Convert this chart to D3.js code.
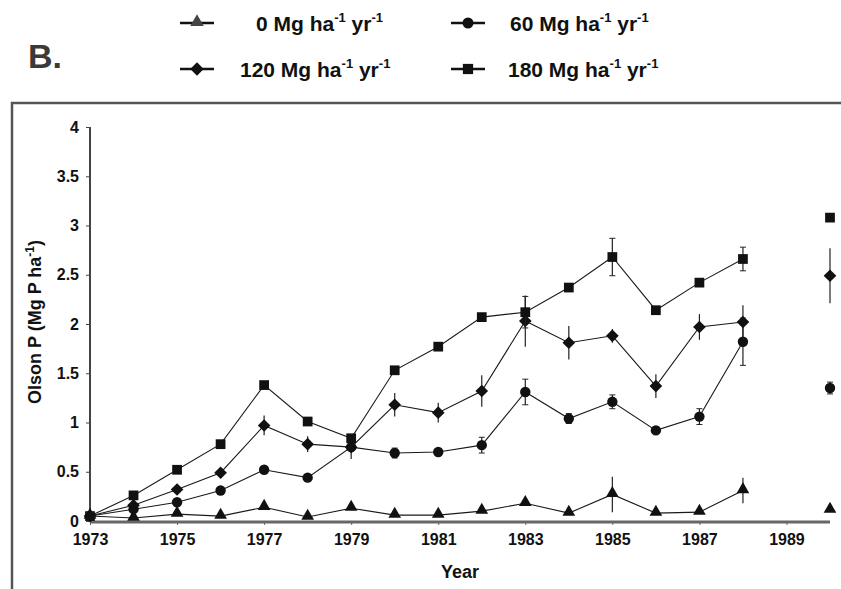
<!DOCTYPE html>
<html>
<head>
<meta charset="utf-8">
<script src="https://cdn.jsdelivr.net/npm/d3@7"></script>
<style>
  body { margin: 0; background: #fff; }
  text { font-family: "Liberation Sans", Arial, sans-serif; font-weight: bold; fill: #111; }
</style>
</head>
<body>
<div id="chart"></div>
<script>
// data
const years = [1973, 1974, 1975, 1976, 1977, 1978, 1979, 1980, 1981, 1982, 1983, 1984, 1985, 1986, 1987, 1988];
const rate0   = [0.05, 0.03, 0.07, 0.05, 0.14, 0.04, 0.13, 0.06, 0.06, 0.10, 0.18, 0.08, 0.27, 0.08, 0.09, 0.31];
const rate60  = [0.05, 0.12, 0.19, 0.31, 0.52, 0.44, 0.75, 0.69, 0.70, 0.77, 1.31, 1.04, 1.21, 0.92, 1.06, 1.82];
const rate120 = [0.05, 0.16, 0.32, 0.49, 0.97, 0.78, 0.75, 1.18, 1.10, 1.32, 2.03, 1.81, 1.88, 1.37, 1.97, 2.02];
const rate180 = [0.05, 0.26, 0.52, 0.78, 1.38, 1.01, 0.84, 1.53, 1.77, 2.07, 2.12, 2.37, 2.68, 2.14, 2.42, 2.66];

const err0   = [0, 0, 0, 0, 0, 0, 0, 0, 0, 0, 0, 0, 0.18, 0, 0, 0.13];
const err60  = [0, 0, 0, 0, 0, 0, 0, 0.05, 0, 0.08, 0.13, 0.05, 0.07, 0.03, 0.08, 0.24];
const err120 = [0, 0, 0, 0, 0.10, 0.08, 0.12, 0.12, 0.10, 0.16, 0.26, 0.17, 0.07, 0.12, 0.13, 0.17];
const err180 = [0, 0, 0, 0, 0, 0, 0.03, 0, 0, 0, 0.16, 0, 0.19, 0, 0, 0.12];

// separate, unconnected 1990 values
const lastYear = 1990;
const lastValues = [0.11, 1.35, 2.49, 3.08];
const lastErr = [0, 0.06, 0.28, 0];

const seriesNames = ["0", "60", "120", "180"];
const xTicks = [1973, 1975, 1977, 1979, 1981, 1983, 1985, 1987, 1989];
const yTicks = [0, 0.5, 1, 1.5, 2, 2.5, 3, 3.5, 4];

const width = 841, height = 589;
const svg = d3.select("#chart").append("svg")
    .attr("width", width)
    .attr("height", height);

// frame
svg.append("path")
    .attr("d", "M12,589 L12,103 L841,103")
    .attr("fill", "none")
    .attr("stroke", "#555")
    .attr("stroke-width", 2.5);

const x = d3.scaleLinear().domain([1973, 1990]).range([90, 830]);
const y = d3.scaleLinear().domain([0, 4]).range([521, 127]);

// axes
const yAxis = svg.append("g")
    .attr("transform", "translate(90,0)")
    .call(d3.axisLeft(y).tickValues(yTicks).tickSize(4).tickPadding(7).tickFormat(d3.format("")));
yAxis.select(".domain").attr("stroke", "#444").attr("stroke-width", 2).attr("d", "M0," + y(4) + "V" + y(0));
yAxis.selectAll(".tick line").attr("stroke", "#444");
yAxis.selectAll(".tick text").attr("font-size", 16).attr("fill", "#111");

const xAxis = svg.append("g")
    .attr("transform", "translate(0,522)")
    .call(d3.axisBottom(x).tickValues(xTicks).tickSize(3).tickPadding(9).tickFormat(d3.format("d")));
xAxis.select(".domain").attr("stroke", "#666").attr("stroke-width", 3).attr("d", "M90,0H830");
xAxis.selectAll(".tick line").attr("stroke", "#666");
xAxis.selectAll(".tick text").attr("font-size", 16).attr("fill", "#111");

svg.append("text")
    .attr("x", 460).attr("y", 578)
    .attr("text-anchor", "middle")
    .attr("font-size", 18)
    .text("Year");

const ylab = svg.append("text")
    .attr("transform", "translate(41,322) rotate(-90)")
    .attr("text-anchor", "middle")
    .attr("font-size", 18);
ylab.append("tspan").text("Olson P (Mg P ha");
ylab.append("tspan").attr("font-size", 12).attr("dy", -7).text("-1");
ylab.append("tspan").attr("dy", 7).text(")");

svg.append("text")
    .attr("x", 28).attr("y", 68)
    .attr("font-size", 34)
    .style("fill", "#3a3a3a")
    .text("B.");

// series
const diamond = {
    draw(ctx, size) {
        const r = Math.sqrt(size / 2);
        ctx.moveTo(0, -r); ctx.lineTo(r, 0); ctx.lineTo(0, r); ctx.lineTo(-r, 0); ctx.closePath();
    }
};
const symbols = [d3.symbolTriangle, d3.symbolCircle, diamond, d3.symbolSquare];
const symSize = [70, 85, 80, 95];
const caps = [false, true, false, true];
const values = [rate0, rate60, rate120, rate180];
const errs = [err0, err60, err120, err180];

const series = seriesNames.map((name, i) => ({
    name: name,
    points: years.map((yr, j) => ({ year: yr, v: values[i][j], e: errs[i][j] })),
    last: { year: lastYear, v: lastValues[i], e: lastErr[i] }
}));

const line = d3.line().x(d => x(d.year)).y(d => y(d.v));

const g = svg.append("g");

series.forEach((s, i) => {
    const all = s.points.concat([s.last]);
    const withErr = all.filter(d => d.e > 0);

    g.selectAll(".err" + i)
        .data(withErr)
        .enter().append("line")
        .attr("x1", d => x(d.year)).attr("x2", d => x(d.year))
        .attr("y1", d => y(d.v - d.e)).attr("y2", d => y(d.v + d.e))
        .attr("stroke", "#222").attr("stroke-width", 1.2);

    if (caps[i]) {
        g.selectAll(".capT" + i)
            .data(withErr)
            .enter().append("line")
            .attr("x1", d => x(d.year) - 3).attr("x2", d => x(d.year) + 3)
            .attr("y1", d => y(d.v + d.e)).attr("y2", d => y(d.v + d.e))
            .attr("stroke", "#222").attr("stroke-width", 1);
        g.selectAll(".capB" + i)
            .data(withErr)
            .enter().append("line")
            .attr("x1", d => x(d.year) - 3).attr("x2", d => x(d.year) + 3)
            .attr("y1", d => y(d.v - d.e)).attr("y2", d => y(d.v - d.e))
            .attr("stroke", "#222").attr("stroke-width", 1);
    }

    g.append("path")
        .datum(s.points)
        .attr("d", line)
        .attr("fill", "none")
        .attr("stroke", "#1a1a1a")
        .attr("stroke-width", 1.1);

    const sym = d3.symbol().type(symbols[i]).size(symSize[i]);
    g.selectAll(".pt" + i)
        .data(all)
        .enter().append("path")
        .attr("d", sym)
        .attr("transform", d => "translate(" + x(d.year) + "," + (y(d.v) + (i === 0 ? -1 : 0)) + ")")
        .attr("fill", "#111");
});

// legend
const legendPos = [
    { sx: 197, sy: 23, tx: 256 },
    { sx: 468, sy: 23, tx: 510 },
    { sx: 197, sy: 69, tx: 240 },
    { sx: 468, sy: 69, tx: 508 }
];

series.forEach((s, i) => {
    const p = legendPos[i];
    const lg = svg.append("g");
    lg.append("line")
        .attr("x1", p.sx - 17).attr("x2", p.sx + 17)
        .attr("y1", p.sy).attr("y2", p.sy)
        .attr("stroke", "#111").attr("stroke-width", 2.5);
    lg.append("path")
        .attr("d", d3.symbol().type(symbols[i]).size(symSize[i] + 10))
        .attr("transform", "translate(" + p.sx + "," + (p.sy + (i === 0 ? -1 : 0)) + ")")
        .attr("fill", i === 0 ? "#444" : "#111");
    const t = lg.append("text")
        .attr("x", p.tx).attr("y", p.sy + 8)
        .attr("font-size", 21);
    t.append("tspan").text(s.name + " Mg ha");
    t.append("tspan").attr("font-size", 13).attr("dy", -9).text("-1");
    t.append("tspan").attr("dy", 9).text(" yr");
    t.append("tspan").attr("font-size", 13).attr("dy", -9).text("-1");
});
</script>
</body>
</html>
